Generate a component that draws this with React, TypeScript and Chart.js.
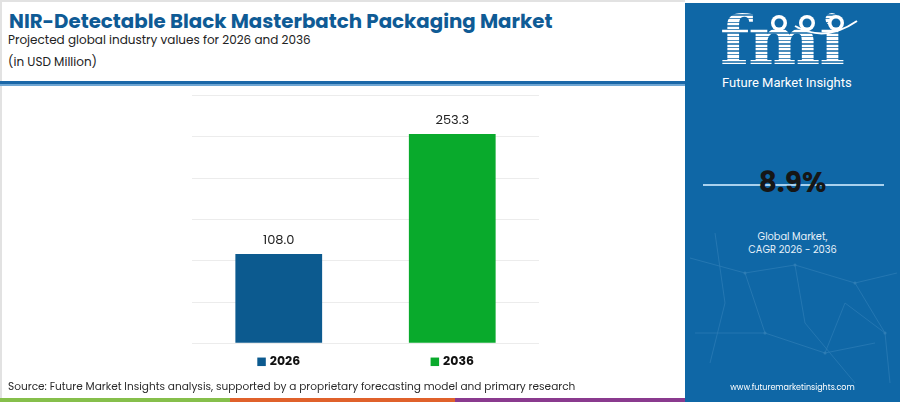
import React, { useEffect, useRef } from "react";
import { Chart, registerables } from "chart.js";

Chart.register(...registerables);

const categories = ["2026", "2036"];
const values = [108.0, 253.3];
const barColors = ["#0c5a8f", "#09aa2c"];
const yMin = 0;
const yMax = 300;
const yStep = 50;
const cagrValue = "8.9%";
const titleText = "NIR-Detectable Black Masterbatch Packaging Market";
const subtitleText = "Projected global industry values for 2026 and 2036";
const unitText = "(in USD Million)";
const sourceText =
  "Source: Future Market Insights analysis, supported by a proprietary forecasting model and primary research";

const FONT = "Poppins, Inter, 'Open Sans', Roboto, sans-serif";

const labelPlugin = {
  id: "barLabels",
  afterDatasetsDraw(chart: any) {
    const ctx = chart.ctx;
    const meta = chart.getDatasetMeta(0);
    ctx.save();
    meta.data.forEach((bar: any, i: number) => {
      ctx.font = `400 13px ${FONT}`;
      ctx.fillStyle = "#222222";
      ctx.textAlign = "center";
      ctx.textBaseline = "middle";
      ctx.fillText(values[i].toFixed(1), bar.x, bar.y - 13);

      const ly = chart.chartArea.bottom + 18.5;
      ctx.font = `700 12.5px ${FONT}`;
      const tw = ctx.measureText(categories[i]).width;
      const sq = 8.5;
      const gap = 4;
      const total = sq + gap + tw;
      const sx = bar.x - total / 2;
      ctx.fillStyle = barColors[i];
      ctx.fillRect(sx, ly - sq / 2, sq, sq);
      ctx.fillStyle = "#111111";
      ctx.textAlign = "left";
      ctx.fillText(categories[i], sx + sq + gap, ly + 0.5);
    });
    ctx.restore();
  },
};

function BarChart() {
  const ref = useRef<HTMLCanvasElement | null>(null);
  useEffect(() => {
    if (!ref.current) return;
    const chart = new Chart(ref.current, {
      type: "bar",
      data: {
        labels: categories,
        datasets: [
          {
            data: values,
            backgroundColor: barColors,
            barPercentage: 0.5,
            categoryPercentage: 1,
            borderWidth: 0,
          },
        ],
      },
      options: {
        responsive: false,
        animation: false,
        devicePixelRatio: 1,
        layout: { padding: { left: 192, right: 146, top: 7.5, bottom: 49.7 } },
        plugins: { legend: { display: false }, tooltip: { enabled: false } },
        scales: {
          x: { display: false },
          y: {
            min: yMin,
            max: yMax,
            ticks: { display: false, stepSize: yStep },
            grid: { color: "#ececec", lineWidth: 1, drawTicks: false },
            border: { display: false },
          },
        },
      },
      plugins: [labelPlugin],
    });
    return () => chart.destroy();
  }, []);
  return (
    <canvas
      ref={ref}
      width={685}
      height={305}
      style={{ position: "absolute", left: 0, top: 88, width: 685, height: 305 }}
    />
  );
}

function Logo() {
  return (
    <div style={{ position: "absolute", left: 685, top: 3, width: 215, height: 95 }}>
      <div
        style={{
          position: "absolute",
          left: 35,
          top: 2,
          fontFamily: "'DejaVu Serif', serif",
          fontWeight: 700,
          fontSize: 68,
          lineHeight: "70px",
          letterSpacing: -1,
          color: "transparent",
          backgroundImage:
            "repeating-linear-gradient(180deg, #ffffff 0px, #ffffff 2.2px, rgba(255,255,255,0.25) 2.2px, rgba(255,255,255,0.25) 3.6px)",
          WebkitBackgroundClip: "text",
          backgroundClip: "text",
        }}
      >
        fmi
      </div>
      <svg width={215} height={60} style={{ position: "absolute", left: 0, top: 0 }}>
        <path d="M 110 23 Q 140 40 172 18" stroke="#ffffff" strokeWidth={2} fill="none" />
        {[94, 122, 151].map((cx, i) => (
          <g key={i}>
            <circle cx={cx} cy={20} r={8} fill="#ffffff" />
            <circle cx={cx} cy={20} r={4.5} fill="#0f67a6" />
          </g>
        ))}
      </svg>
      <div
        style={{
          position: "absolute",
          left: 37,
          top: 72,
          fontFamily: "Roboto, sans-serif",
          fontSize: 13,
          color: "#ffffff",
          whiteSpace: "nowrap",
        }}
      >
        Future Market Insights
      </div>
    </div>
  );
}

export default function App() {
  useEffect(() => {
    document.body.style.margin = "0";
  }, []);
  return (
    <div
      style={{
        position: "fixed",
        left: 0,
        top: 0,
        width: 900,
        height: 402,
        background: "#ffffff",
        overflow: "hidden",
        fontFamily: FONT,
      }}
    >
      <div
        style={{
          position: "absolute",
          left: 0,
          top: 0,
          width: 685,
          height: 402,
          borderTop: "2px solid #e2e2e2",
          borderLeft: "2px solid #e2e2e2",
          boxSizing: "border-box",
        }}
      />
      <div
        style={{
          position: "absolute",
          left: 9,
          top: 7,
          fontSize: 19.8,
          fontWeight: 700,
          color: "#0f5b95",
          whiteSpace: "nowrap",
          lineHeight: "28px",
        }}
      >
        {titleText}
      </div>
      <div
        style={{
          position: "absolute",
          left: 8,
          top: 31,
          fontSize: 12,
          color: "#222222",
          whiteSpace: "nowrap",
          lineHeight: "18px",
        }}
      >
        {subtitleText}
      </div>
      <div
        style={{
          position: "absolute",
          left: 8,
          top: 51,
          fontSize: 12,
          color: "#222222",
          whiteSpace: "nowrap",
          lineHeight: "22px",
        }}
      >
        {unitText}
      </div>
      <div style={{ position: "absolute", left: 0, top: 81, width: 685, height: 3, background: "#1a67a8" }} />
      <div style={{ position: "absolute", left: 0, top: 84, width: 685, height: 2, background: "#6fa6d3" }} />

      <BarChart />

      <div
        style={{
          position: "absolute",
          left: 8,
          top: 378,
          fontSize: 10.55,
          color: "#2a2a2a",
          whiteSpace: "nowrap",
          lineHeight: "18px",
        }}
      >
        {sourceText}
      </div>
      <div style={{ position: "absolute", left: 0, top: 398, width: 230, height: 4, background: "#86bf4b" }} />
      <div style={{ position: "absolute", left: 230, top: 398, width: 225, height: 4, background: "#e0612b" }} />
      <div style={{ position: "absolute", left: 455, top: 398, width: 230, height: 4, background: "#8a3a8e" }} />

      <div
        style={{
          position: "absolute",
          left: 685,
          top: 3,
          width: 215,
          height: 399,
          background: "#0f67a6",
        }}
      >
        <svg width={215} height={399} style={{ position: "absolute", left: 0, top: 0, opacity: 0.18 }}>
          <g stroke="#9fd0f2" strokeWidth={0.8} fill="none">
            <path d="M 5 255 L 60 270 L 110 262 L 170 280 L 212 270" />
            <path d="M 30 230 L 40 300 L 25 360" />
            <path d="M 60 270 L 80 330 L 140 350 L 190 340" />
            <path d="M 110 262 L 120 320 L 170 380" />
            <path d="M 170 280 L 200 330 L 205 380" />
            <path d="M 10 330 L 80 330" />
            <path d="M 140 350 L 160 300 L 200 330" />
          </g>
          <g fill="#b6dcf5">
            <circle cx={60} cy={270} r={1.5} />
            <circle cx={110} cy={262} r={1.5} />
            <circle cx={170} cy={280} r={1.5} />
            <circle cx={80} cy={330} r={1.5} />
            <circle cx={140} cy={350} r={1.5} />
            <circle cx={200} cy={330} r={1.5} />
          </g>
        </svg>
      </div>
      <Logo />
      <div style={{ position: "absolute", left: 703, top: 184, width: 181, height: 2, background: "#a9d1ee" }} />
      <div
        style={{
          position: "absolute",
          left: 685,
          top: 165,
          width: 215,
          textAlign: "center",
          fontSize: 28,
          fontWeight: 700,
          color: "#161616",
          lineHeight: "36px",
        }}
      >
        {cagrValue}
      </div>
      <div
        style={{
          position: "absolute",
          left: 685,
          top: 230,
          width: 215,
          textAlign: "center",
          fontSize: 9.8,
          color: "#e6f1fa",
          lineHeight: "13px",
        }}
      >
        Global Market,
        <br />
        CAGR 2026 - 2036
      </div>
      <div
        style={{
          position: "absolute",
          left: 685,
          top: 380,
          width: 215,
          textAlign: "center",
          fontSize: 8,
          color: "#ffffff",
          lineHeight: "16px",
        }}
      >
        www.futuremarketinsights.com
      </div>
    </div>
  );
}
